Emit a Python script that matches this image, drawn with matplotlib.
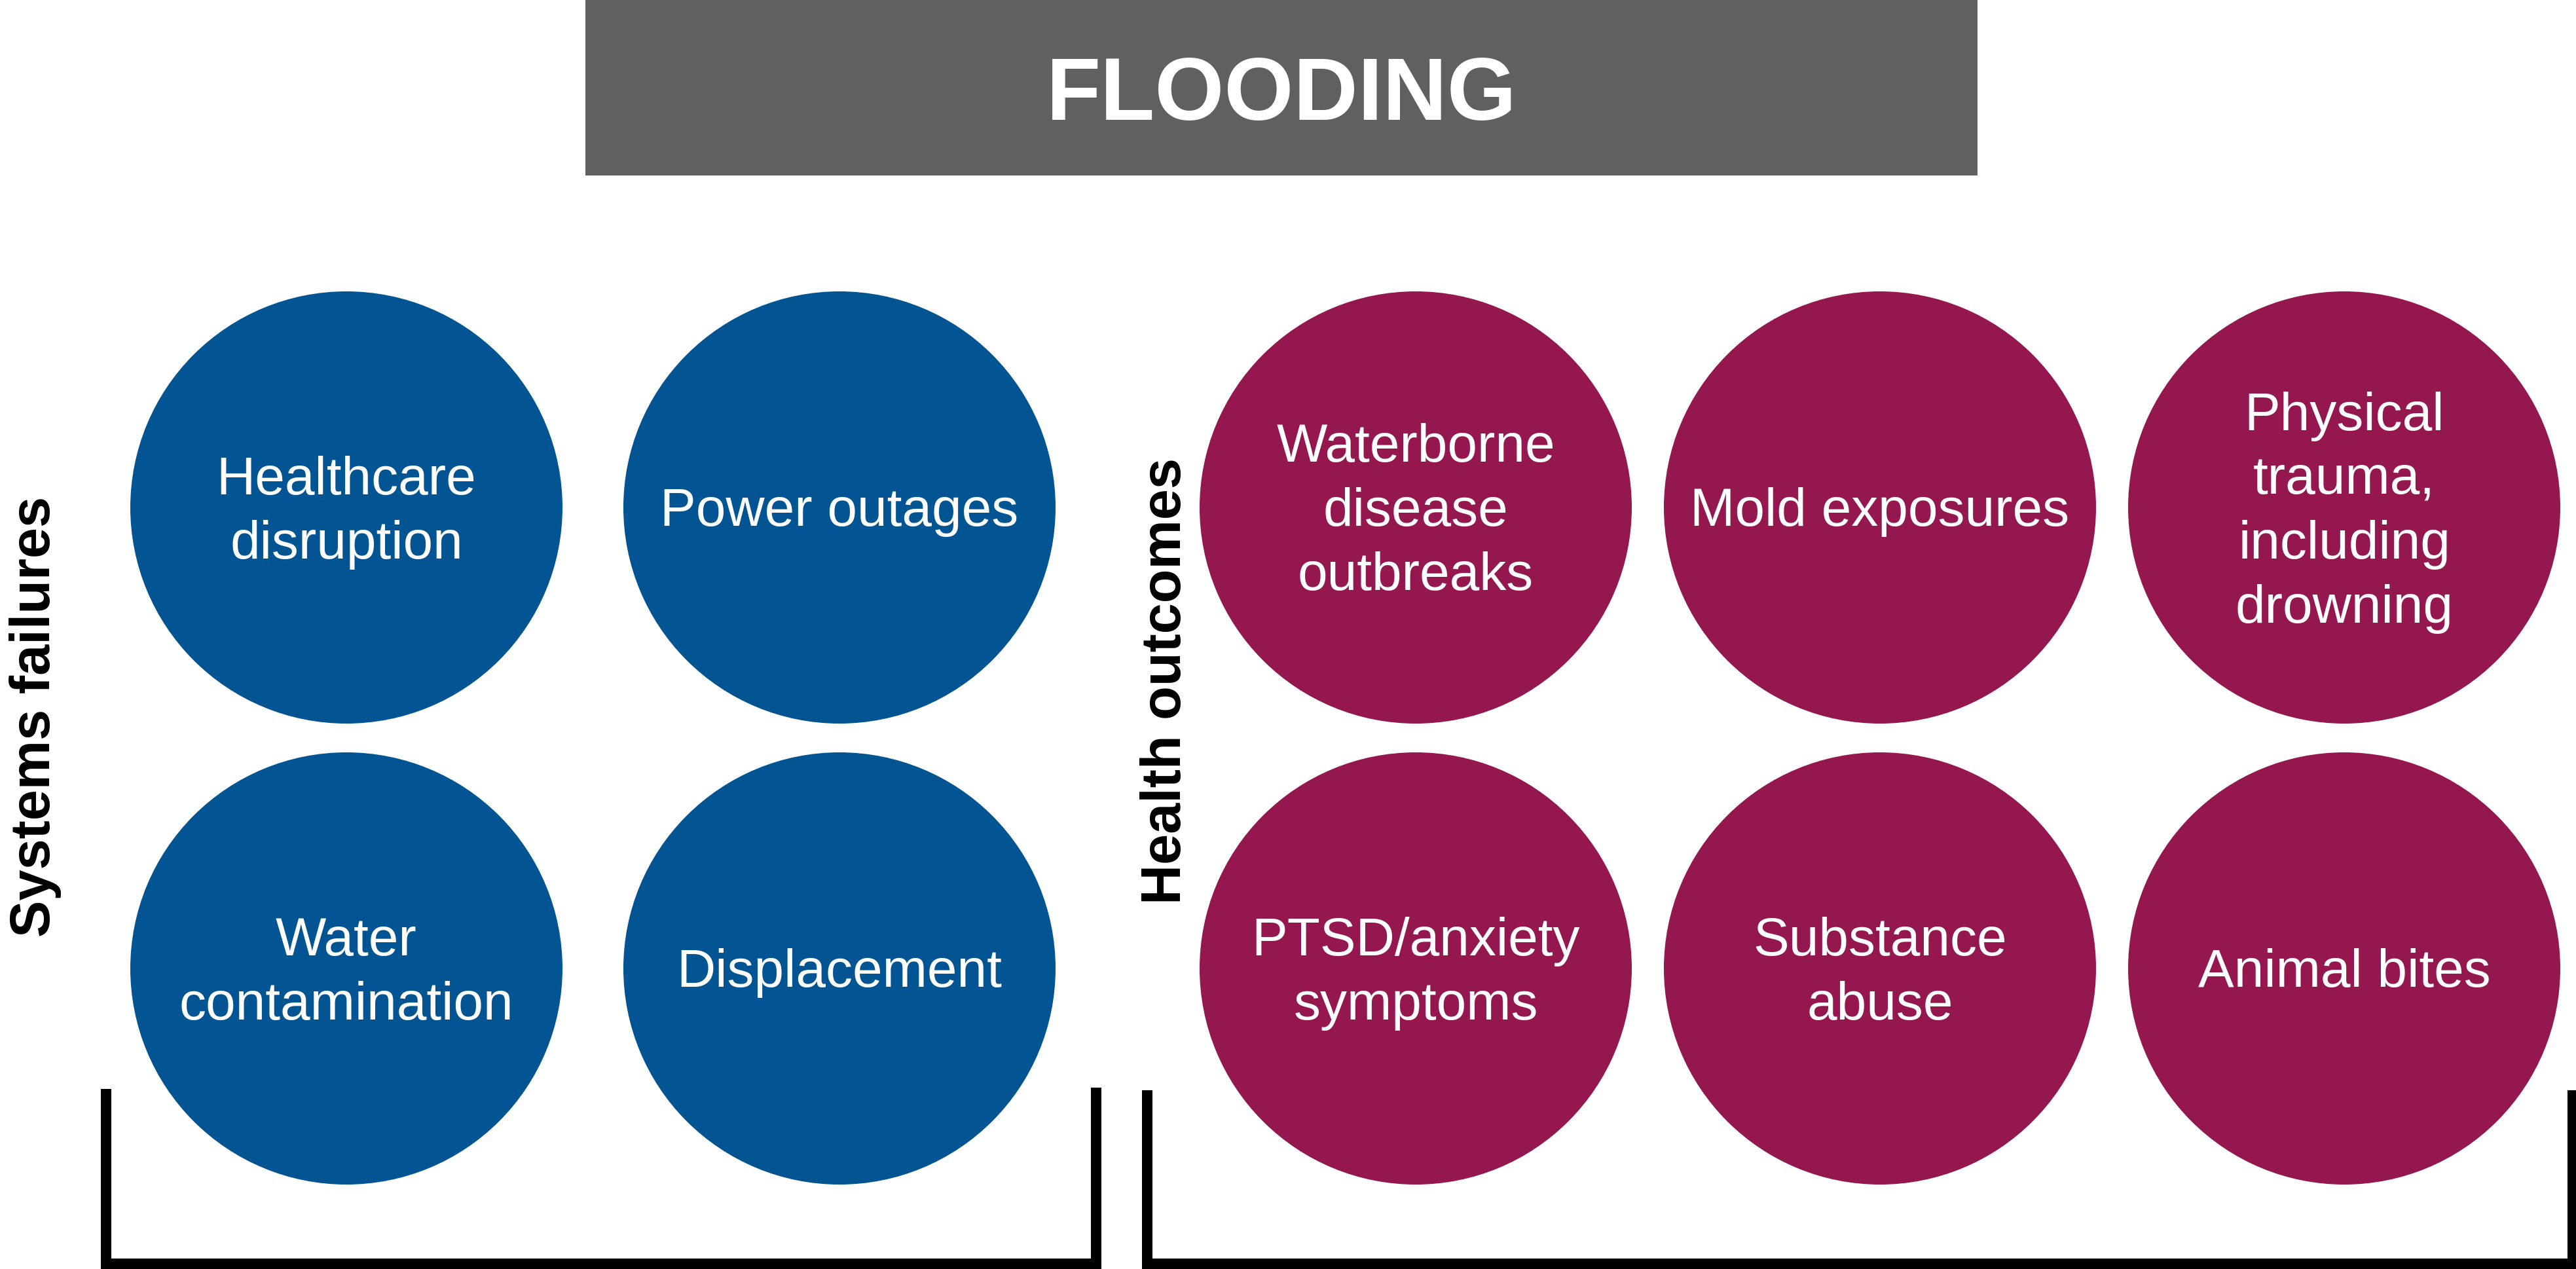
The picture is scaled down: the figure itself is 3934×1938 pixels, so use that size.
import matplotlib
matplotlib.use("Agg")
import matplotlib.pyplot as plt
from matplotlib.patches import Circle, Rectangle

# ---------------- data ----------------
title = "FLOODING"
group_labels = ["Systems failures", "Health outcomes"]
systems_items = [["Healthcare\ndisruption", "Power outages"],
                 ["Water\ncontamination", "Displacement"]]
health_items = [["Waterborne\ndisease\noutbreaks", "Mold exposures", "Physical\ntrauma,\nincluding\ndrowning"],
                ["PTSD/anxiety\nsymptoms", "Substance\nabuse", "Animal bites"]]

# ---------------- style / layout ----------------
W, H = 3934, 1938
DPI = 100
BLUE = "#025592"
MAGENTA = "#95174F"
GRAY = "#606060"
FONT = ["Liberation Sans", "DejaVu Sans"]

R = 330
ROW_Y = [775, 1479]
SYS_X0, SYS_DX = 529, 753
HEA_X0, HEA_DX = 2162, 709
LINE_H = 98
CAP_H = 57

fig = plt.figure(figsize=(W / DPI, H / DPI), dpi=DPI)
ax = fig.add_axes([0, 0, 1, 1])
ax.set_xlim(0, W)
ax.set_ylim(H, 0)
ax.set_aspect("auto")
ax.axis("off")

# title box
ax.add_patch(Rectangle((894, 0), 3020 - 894, 268, facecolor=GRAY, edgecolor="none"))
ax.text((894 + 3020) / 2, 134 + 49, title, color="white", fontsize=98, fontweight="bold",
        family=FONT, ha="center", va="baseline")


def draw_group(items, x0, dx, color):
    for r, row in enumerate(items):
        cy = ROW_Y[r]
        for c, label in enumerate(row):
            cx = x0 + c * dx
            ax.add_patch(Circle((cx, cy), R, facecolor=color, edgecolor="none"))
            lines = label.split("\n")
            n = len(lines)
            b0 = cy + CAP_H / 2 - (n - 1) * LINE_H / 2
            for i, ln in enumerate(lines):
                ax.text(cx, b0 + i * LINE_H, ln, color="white", fontsize=59,
                        family=FONT, ha="center", va="baseline")


draw_group(systems_items, SYS_X0, SYS_DX, BLUE)
draw_group(health_items, HEA_X0, HEA_DX, MAGENTA)

# side labels
ax.text(76, 1094, group_labels[0], rotation=90, rotation_mode="anchor",
        ha="center", va="baseline", fontsize=61, fontweight="bold", family=FONT, color="black")
ax.text(1803, 1040, group_labels[1], rotation=90, rotation_mode="anchor",
        ha="center", va="baseline", fontsize=61, fontweight="bold", family=FONT, color="black")

# brackets
LW = 16 * 72 / DPI
ax.plot([162, 162, 1674, 1674], [1663, 1930, 1930, 1661], color="black", lw=LW,
        solid_capstyle="butt", solid_joinstyle="miter")
ax.plot([1752, 1752, 3929, 3929], [1665, 1930, 1930, 1665], color="black", lw=LW,
        solid_capstyle="butt", solid_joinstyle="miter")

fig.savefig("out.png", dpi=DPI, facecolor="white")
